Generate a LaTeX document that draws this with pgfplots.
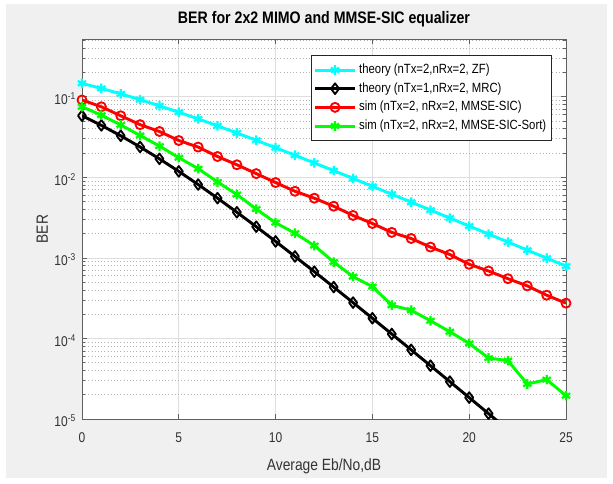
\documentclass[border=0pt]{standalone}
\usepackage{fontspec}
\setmainfont{Liberation Sans}[FakeStretch=0.85]
\usepackage{pgfplots}
\pgfplotsset{compat=1.18}
\definecolor{figgray}{HTML}{F0F0F0}
\definecolor{axgray}{HTML}{606060}
\definecolor{mcyan}{RGB}{0,255,255}
\definecolor{mgreen}{RGB}{0,255,0}
\definecolor{mred}{RGB}{255,0,0}
\begin{document}
\begin{tikzpicture}
\path[use as bounding box, fill=white] (-61.5pt,-48pt) rectangle (398.25pt,314.25pt);
\fill[figgray] (-57pt,-44.25pt) rectangle (393.75pt,311.25pt);
\begin{axis}[
  at={(0pt,0pt)}, anchor=south west,
  scale only axis, width=363pt, height=285pt,
  axis background/.style={fill=white},
  /pgf/number format/assume math mode=true,
  ymode=log, xmin=0, xmax=25, ymin=1e-5, ymax=0.52,
  xtick={0,5,10,15,20,25},
  xticklabels={0,5,10,15,20,25},
  ytick={1e-5,1e-4,1e-3,1e-2,1e-1},
  yticklabels={10\textsuperscript{-5},10\textsuperscript{-4},10\textsuperscript{-3},10\textsuperscript{-2},10\textsuperscript{-1}},
  minor ytick={2e-5,3e-5,4e-5,5e-5,6e-5,7e-5,8e-5,9e-5,
               2e-4,3e-4,4e-4,5e-4,6e-4,7e-4,8e-4,9e-4,
               2e-3,3e-3,4e-3,5e-3,6e-3,7e-3,8e-3,9e-3,
               2e-2,3e-2,4e-2,5e-2,6e-2,7e-2,8e-2,9e-2,
               2e-1,3e-1,4e-1,5e-1},
  grid=both,
  major grid style={draw=black!13, line width=0.5pt},
  minor grid style={draw=black!30, dotted, line width=0.5pt},
  tick align=inside, tick pos=both,
  major tick length=3.5pt, minor tick length=2pt,
  axis line style={draw=axgray, line width=0.6pt},
  every tick/.style={draw=axgray, line width=0.5pt},
  tick label style={font=\fontsize{10.6}{12}\selectfont, text=black!80},
  xticklabel style={yshift=-6.5pt},
  yticklabel style={xshift=-1pt, yshift=-1.5pt},
  title={BER for 2x2 MIMO and MMSE-SIC equalizer},
  title style={at={(axis description cs:0.5,1.02105)}, anchor=base, font=\fontsize{12.5}{15}\selectfont\bfseries},
  xlabel={Average Eb/No,dB},
  xlabel style={at={(axis description cs:0.5,-0.1342)}, anchor=base, font=\fontsize{12.2}{14}\selectfont, text=black!80},
  ylabel={BER},
  ylabel style={at={(axis description cs:-0.07025,0.5)}, anchor=base, font=\fontsize{12.2}{14}\selectfont, text=black!80},
  legend style={at={(0.971,0.958)}, anchor=north east, draw=black!85, line width=0.6pt, fill=white,
    font=\fontsize{10}{12}\selectfont, inner xsep=2pt, inner ysep=4pt, row sep=0pt,
    nodes={inner sep=2pt, text height=7.5pt, text depth=2.5pt}},
  legend cell align=left,
  legend image code/.code={\draw[mark repeat=2,mark phase=2,#1] plot coordinates {(0pt,0pt) (15pt,0pt) (30pt,0pt)};},
]
\addplot[mcyan, line width=2.2pt, line join=round, mark=asterisk, mark size=3.6pt, mark options={solid, line width=1.7pt}] coordinates {
(0,0.14645) (1,0.12673) (2,0.10849) (3,0.09191) (4,0.07714) (5,0.06418)
(6,0.05300) (7,0.04347) (8,0.03546) (9,0.02878) (10,0.02327) (11,0.01875)
(12,0.01507) (13,0.01208) (14,0.009665) (15,0.007723) (16,0.006164) (17,0.004915)
(18,0.003916) (19,0.003118) (20,0.002481) (21,0.001974) (22,0.001570) (23,0.001248)
(24,0.000992) (25,0.000789)};
\addlegendentry{theory (nTx=2,nRx=2, ZF)}
\addplot[black, line width=2.2pt, line join=round, mark=diamond, mark size=4pt, mark options={solid, line width=1.4pt}] coordinates {
(0,0.05806) (1,0.04411) (2,0.03275) (3,0.02379) (4,0.01693) (5,0.01183)
(6,0.008129) (7,0.005506) (8,0.003683) (9,0.002438) (10,0.001599) (11,0.001041)
(12,0.000674) (13,0.000434) (14,0.0002784) (15,0.0001780) (16,0.0001135) (17,0.00007226)
(18,0.00004589) (19,0.00002911) (20,0.00001844) (21,0.00001166) (22,0.00000738)};
\addlegendentry{theory (nTx=1,nRx=2, MRC)}
\addplot[mred, line width=2.2pt, line join=round, mark=o, mark size=3.4pt, mark options={solid, line width=1.4pt}] coordinates {
(0,0.091) (1,0.075) (2,0.058) (3,0.045) (4,0.037) (5,0.0286)
(6,0.0237) (7,0.0181) (8,0.0143) (9,0.0111) (10,0.0086) (11,0.0067)
(12,0.0055) (13,0.00437) (14,0.00336) (15,0.00267) (16,0.00207) (17,0.00174)
(18,0.00136) (19,0.00110) (20,0.000831) (21,0.000687) (22,0.000552) (23,0.000449)
(24,0.000344) (25,0.000274)};
\addlegendentry{sim (nTx=2, nRx=2, MMSE-SIC)}
\addplot[mgreen, line width=2.2pt, line join=round, mark=asterisk, mark size=3.6pt, mark options={solid, line width=1.7pt}] coordinates {
(0,0.075) (1,0.059) (2,0.0446) (3,0.033) (4,0.0244) (5,0.0175)
(6,0.0128) (7,0.00875) (8,0.00611) (9,0.00403) (10,0.00273) (11,0.00202)
(12,0.00142) (13,0.000887) (14,0.000585) (15,0.00044) (16,0.000258) (17,0.000224)
(18,0.000166) (19,0.000121) (20,0.0000867) (21,0.0000571) (22,0.0000530) (23,0.0000272)
(24,0.0000308) (25,0.0000195)};
\addlegendentry{sim (nTx=2, nRx=2, MMSE-SIC-Sort)}
\end{axis}
\end{tikzpicture}
\end{document}
